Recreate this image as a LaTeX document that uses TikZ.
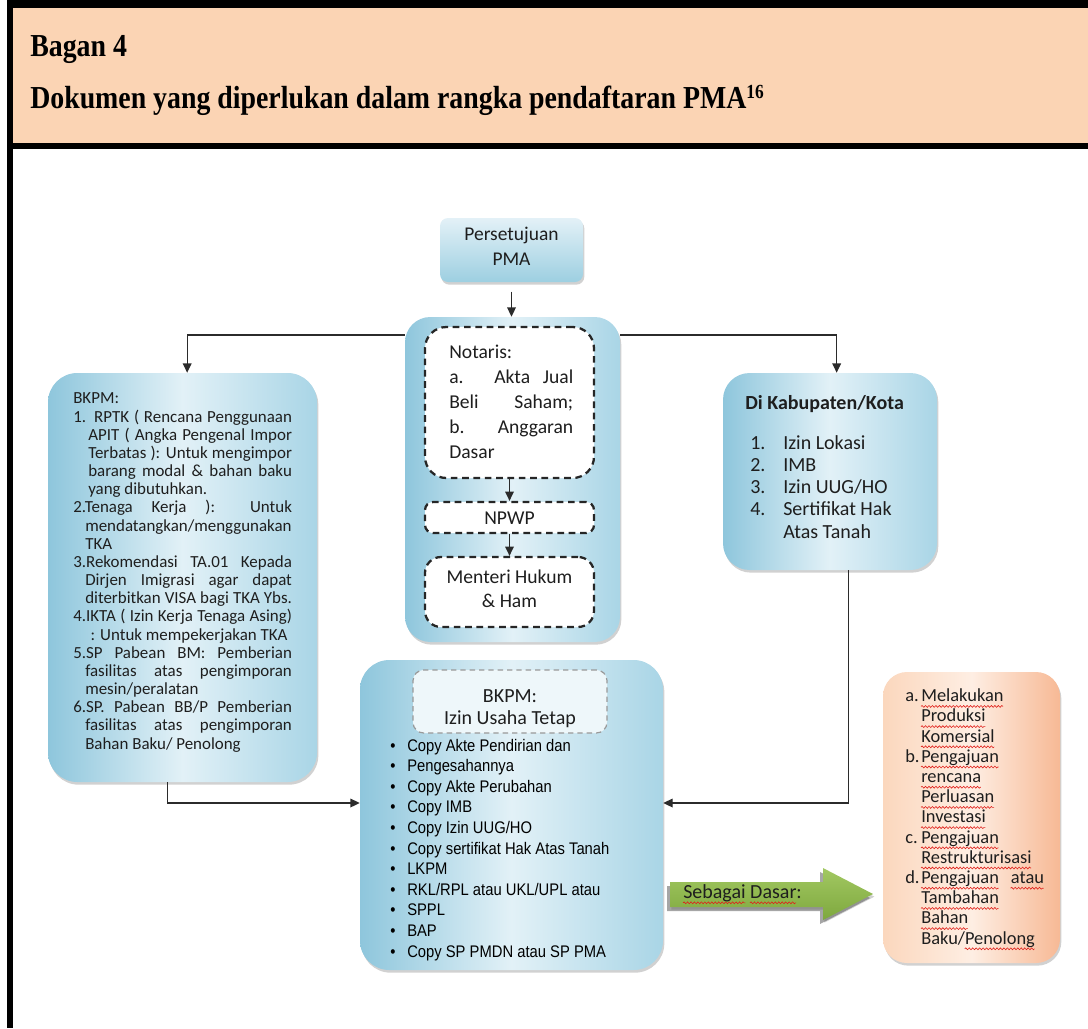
\documentclass[tikz,border=0pt]{standalone}
\usepackage{fontspec}
\usetikzlibrary{fit,shadows,arrows.meta,calc,decorations.pathmorphing}
\setmainfont{Carlito}
\newfontfamily\headfont[FakeStretch=0.87]{Liberation Serif}
\newfontfamily\listfont[FakeStretch=0.88]{Liberation Sans}

\definecolor{headfill}{HTML}{FBD4B4}
\definecolor{blueA}{HTML}{8EC6DC}
\definecolor{blueB}{HTML}{E2F1F7}
\definecolor{blueC}{HTML}{A9D5E6}
\definecolor{blueTop}{HTML}{E3F1F7}
\definecolor{blueBot}{HTML}{9DCFE1}
\definecolor{orA}{HTML}{FBD7BD}
\definecolor{orB}{HTML}{FEEEE3}
\definecolor{orC}{HTML}{F7B995}
\definecolor{grTop}{HTML}{A2C862}
\definecolor{grBot}{HTML}{7EA83E}
\definecolor{linecol}{HTML}{2B2B2B}
\definecolor{textcol}{HTML}{1E1E1E}
\definecolor{dashcol}{HTML}{262626}
\definecolor{spellred}{HTML}{E0201B}

% red wavy underline for the marked words
\newsavebox\sqbox
\newlength\sqw
\newcommand\sq[1]{\sbox\sqbox{#1}\setlength\sqw{\wd\sqbox}\usebox\sqbox\llap{\tikz[baseline=0pt,x=1pt,y=1pt]\draw[spellred,line width=0.45pt,decorate,decoration={snake,amplitude=0.7pt,segment length=2.6pt}] (0pt,-3.6pt) -- (\sqw,-3.6pt);}}
\newcommand\jbox[2]{\makebox[#1][s]{#2}}

\begin{document}
\begin{tikzpicture}[x=0.75pt,y=-0.75pt,
  shade/.style={drop shadow={shadow xshift=1pt,shadow yshift=-2pt,opacity=0.3,fill=black!60}},
  bluebox/.style={inner sep=0pt, left color=blueA, right color=blueC, middle color=blueB, shade},
  topbox/.style={inner sep=0pt, top color=blueTop, bottom color=blueBot, shade},
  orangebox/.style={inner sep=0pt, left color=orA, right color=orC, middle color=orB, shade},
  dashbox/.style={inner sep=0pt, draw=dashcol, fill=white, line width=1.7pt, dash pattern=on 5pt off 3.5pt},
  innerdash/.style={inner sep=0pt, draw=black!40, fill=blueB!60!white, line width=0.9pt, dash pattern=on 4pt off 3pt},
  txt/.style={inner sep=0pt, anchor=base west, align=left, text=textcol},
  ctxt/.style={inner sep=0pt, anchor=base, align=center, text=textcol},
  conn/.style={draw=linecol, line width=0.9pt, -{Triangle[length=7pt,width=6.5pt]}}
]
\useasboundingbox (0,0) rectangle (1088,1028);

% frame and heading band
\fill[headfill] (13,8) rectangle (1088,143);
\fill[black] (7,0) rectangle (1088,8);
\fill[black] (7,143) rectangle (1088,149);
\fill[black] (7,0) rectangle (13,1028);
\node[txt, font=\headfont\bfseries\fontsize{24}{28}\selectfont, text=black] (bagan) at (30,56) {Bagan 4};
\node[txt, font=\headfont\bfseries\fontsize{24}{28}\selectfont, text=black] (judul) at (30,108)
  {Dokumen yang diperlukan dalam rangka pendaftaran PMA\raisebox{7.5pt}{\fontsize{15}{15}\selectfont 16}};

% approval box (multi-line texts are placed by their last baseline)
\node[topbox, rounded corners=6pt, fit={(440,218) (583,282)}] (pma) {};
\node[ctxt, font=\fontsize{14.6}{18.75}\selectfont] (pmaText) at (511.5,265) {Persetujuan\\PMA};

% notary column
\node[bluebox, rounded corners=19pt, fit={(405,317) (620,642)}] (center) {};
\node[dashbox, rounded corners=16pt, fit={(425,327) (594,478)}] (notaris) {};
\node[txt, font=\fontsize{14.7}{18.75}\selectfont] (notarisText) at (449,458)
  {Notaris:\\ \jbox{93pt}{a. Akta Jual}\\ \jbox{93pt}{Beli Saham;}\\ \jbox{93pt}{b. Anggaran}\\ Dasar};
\node[dashbox, rounded corners=6pt, fit={(425,502) (594,533)}] (npwp) {};
\node[ctxt, font=\fontsize{14.7}{18}\selectfont] (npwpText) at (509.5,524) {NPWP};
\node[dashbox, rounded corners=12pt, fit={(425,557) (594,627)}] (menteri) {};
\node[ctxt, font=\fontsize{14.7}{18}\selectfont] (menteriText) at (509.5,607) {Menteri Hukum\\\& Ham};

% BKPM requirements
\node[bluebox, rounded corners=22pt, fit={(48,373) (317,782)}] (bkpmL) {};
\node[txt, font=\fontsize{12.7}{13.62}\selectfont] (bkpmText) at (73,749) {BKPM:\\
\jbox{164pt}{1. RPTK ( Rencana Penggunaan}\\
\hspace*{11.25pt}\jbox{152.75pt}{APIT ( Angka Pengenal Impor}\\
\hspace*{11.25pt}\jbox{152.75pt}{Terbatas ): Untuk mengimpor}\\
\hspace*{11.25pt}\jbox{152.75pt}{barang modal \& bahan baku}\\
\hspace*{11.25pt}yang dibutuhkan.\\
\jbox{164pt}{2.Tenaga Kerja ): Untuk}\\
\hspace*{9pt}mendatangkan/menggunakan\\
\hspace*{9pt}TKA\\
\jbox{164pt}{3.Rekomendasi TA.01 Kepada}\\
\hspace*{9pt}\jbox{155pt}{Dirjen Imigrasi agar dapat}\\
\hspace*{9pt}\jbox{155pt}{diterbitkan VISA bagi TKA Ybs.}\\
\jbox{164pt}{4.IKTA ( Izin Kerja Tenaga Asing)}\\
\hspace*{13pt}: Untuk mempekerjakan TKA\\
\jbox{164pt}{5.SP Pabean BM: Pemberian}\\
\hspace*{9pt}\jbox{155pt}{fasilitas atas pengimporan}\\
\hspace*{9pt}mesin/peralatan\\
\jbox{164pt}{6.SP. Pabean BB/P Pemberian}\\
\hspace*{9pt}\jbox{155pt}{fasilitas atas pengimporan}\\
\hspace*{9pt}Bahan Baku/ Penolong};

% regency permits
\node[bluebox, rounded corners=20pt, fit={(723,373) (937,570)}] (kab) {};
\node[txt, font=\fontsize{15}{16.6}\selectfont] (kabText) at (745,538)
  {\textbf{Di Kabupaten/Kota}\\[13.4pt]
   \hspace*{3.75pt}\makebox[24.75pt][l]{1.}Izin Lokasi\\
   \hspace*{3.75pt}\makebox[24.75pt][l]{2.}IMB\\
   \hspace*{3.75pt}\makebox[24.75pt][l]{3.}Izin UUG/HO\\
   \hspace*{3.75pt}\makebox[24.75pt][l]{4.}Sertifikat Hak\\
   \hspace*{28.5pt}Atas Tanah};

% permanent business licence
\node[bluebox, rounded corners=22pt, fit={(360,660) (663,970)}] (izin) {};
\node[innerdash, rounded corners=8pt, fit={(413,670) (607,733)}] (izinHead) {};
\node[ctxt, font=\fontsize{15}{16.5}\selectfont] (izinHeadText) at (510,724) {BKPM:\\Izin Usaha Tetap};
\node[txt, font=\listfont\fontsize{12.6}{15.45}\selectfont, text=black] (izinList) at (390,957)
  {\makebox[12.75pt][l]{•}Copy Akte Pendirian dan\\
   \makebox[12.75pt][l]{•}Pengesahannya\\
   \makebox[12.75pt][l]{•}Copy Akte Perubahan\\
   \makebox[12.75pt][l]{•}Copy IMB\\
   \makebox[12.75pt][l]{•}Copy Izin UUG/HO\\
   \makebox[12.75pt][l]{•}Copy sertifikat Hak Atas Tanah\\
   \makebox[12.75pt][l]{•}LKPM\\
   \makebox[12.75pt][l]{•}RKL/RPL atau UKL/UPL atau\\
   \makebox[12.75pt][l]{•}SPPL\\
   \makebox[12.75pt][l]{•}BAP\\
   \makebox[12.75pt][l]{•}Copy SP PMDN atau SP PMA};

% follow-up uses
\node[orangebox, rounded corners=18pt, fit={(883,672) (1060,963)}] (dasar) {};
\node[txt, font=\fontsize{13.8}{15.15}\selectfont] (dasarText) at (905,944)
  {\makebox[12pt][l]{a.}\sq{Melakukan}\\
   \hspace*{12pt}\sq{Produksi}\\
   \hspace*{12pt}\sq{Komersial}\\
   \makebox[12pt][l]{b.}\sq{Pengajuan}\\
   \hspace*{12pt}\sq{rencana}\\
   \hspace*{12pt}\sq{Perluasan}\\
   \hspace*{12pt}\sq{Investasi}\\
   \makebox[12pt][l]{c.}\sq{Pengajuan}\\
   \hspace*{12pt}\sq{Restrukturisasi}\\
   \makebox[12pt][l]{d.}\sq{Pengajuan}\hspace{9pt}\sq{atau}\\
   \hspace*{12pt}\sq{Tambahan}\\
   \hspace*{12pt}\sq{Bahan}\\
   \hspace*{12pt}Baku/\sq{Penolong}};

% block arrow
\fill[black!35] (667,886) -- (820,886) -- (820,872) -- (870,898) -- (820,924) -- (820,911) -- (667,911) -- cycle;
\shade[top color=grTop, bottom color=grBot] (670,882) -- (823,882) -- (823,868) -- (873,894) -- (823,920) -- (823,907) -- (670,907) -- cycle;
\node[txt, font=\fontsize{15}{18}\selectfont] (sebagai) at (683,898) {\sq{Sebagai} \sq{Dasar}:};

% connectors
\coordinate (split) at (512,335);
\draw[conn, shorten <=7pt] (pma.south) -- (pma.south |- center.north);
\draw[conn] (notaris.south) -- (npwp.north);
\draw[conn] (npwp.south) -- (menteri.north);
\draw[conn] (split -| center.west) -| ([xshift=3.5pt]bkpmL.north);
\draw[conn] (split -| center.east) -| ([xshift=5pt]kab.north);
\draw[conn] ([xshift=-11pt]bkpmL.south) |- ([yshift=9pt]izin.west);
\draw[conn] ([xshift=14pt]kab.south) |- ([yshift=9pt]izin.east);
\end{tikzpicture}
\end{document}
